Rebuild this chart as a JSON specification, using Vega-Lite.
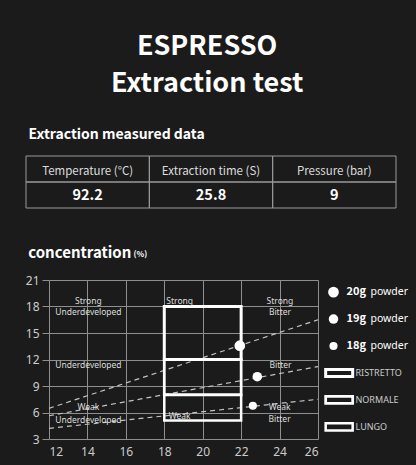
{
  "$schema": "https://vega.github.io/schema/vega-lite/v6.json",
  "background": "#1b1b1b",
  "padding": {"left": 25, "top": 32, "right": 15, "bottom": 12},
  "title": {"text": ["ESPRESSO", "Extraction test"], "anchor": "middle", "fontSize": 27, "lineHeight": 37, "font": "Noto Sans CJK SC", "fontWeight": "bold", "color": "#ffffff", "offset": 30, "dx": -15},
  "columns": 1,
  "spacing": 37,
  "config": {"view": {"stroke": null}, "font": "Noto Sans"},
  "concat": [
    {
      "title": {"text": "Extraction measured data", "anchor": "start", "fontSize": 14, "font": "Noto Sans CJK SC", "fontWeight": "bold", "color": "#ffffff", "dx": 3, "offset": 14},
      "width": 370,
      "height": 52,
      "data": {"values": [
        {"measure": "Temperature (°C)", "row": "label", "text": "Temperature (°C)"},
        {"measure": "Extraction time (S)", "row": "label", "text": "Extraction time (S)"},
        {"measure": "Pressure (bar)", "row": "label", "text": "Pressure (bar)"},
        {"measure": "Temperature (°C)", "row": "value", "text": "92.2"},
        {"measure": "Extraction time (S)", "row": "value", "text": "25.8"},
        {"measure": "Pressure (bar)", "row": "value", "text": "9"}
      ]},
      "encoding": {
        "x": {"field": "measure", "type": "nominal", "sort": null, "scale": {"paddingInner": 0, "paddingOuter": 0, "range": [-23, 347]}, "axis": null},
        "y": {"field": "row", "type": "nominal", "sort": ["label", "value"], "scale": {"paddingInner": 0, "paddingOuter": 0}, "axis": null}
      },
      "layer": [
        {"mark": {"type": "rect", "filled": false, "color": "#9a9a9a", "strokeWidth": 1}},
        {"transform": [{"filter": "datum.row === 'label'"}], "mark": {"type": "text", "fontSize": 11.5, "color": "#dddddd", "dy": 3, "font": "Noto Sans CJK SC"}, "encoding": {"text": {"field": "text"}}},
        {"transform": [{"filter": "datum.row === 'value'"}], "mark": {"type": "text", "fontSize": 14.5, "fontWeight": "bold", "color": "#ffffff", "dy": 1, "font": "Noto Sans CJK SC"}, "encoding": {"text": {"field": "text"}}}
      ]
    },
    {
      "bounds": "flush",
      "spacing": 0,
      "title": {"text": "concentration", "anchor": "start", "fontSize": 15, "font": "Noto Sans CJK SC", "fontWeight": "bold", "color": "#ffffff", "offset": -11, "dx": 3},
      "hconcat": [
        {
          "width": 269,
          "height": 159,
          "encoding": {
            "x": {"field": "x", "type": "quantitative", "scale": {"domain": [12, 26], "nice": false}, "axis": {"values": [12, 14, 16, 18, 20, 22, 24, 26], "tickCount": 20, "format": "d", "labelOverlap": false, "grid": true, "gridColor": "#8f8f8f", "domain": false, "ticks": false, "labelColor": "#cccccc", "labelFontSize": 12, "labelPadding": 7, "title": null}},
            "y": {"field": "y", "type": "quantitative", "scale": {"domain": [3, 21], "nice": false, "zero": false}, "axis": {"values": [3, 6, 9, 12, 15, 18, 21], "tickCount": 20, "format": "d", "labelOverlap": false, "grid": true, "gridColor": "#8f8f8f", "domain": false, "ticks": true, "tickSize": 7, "tickColor": "#8f8f8f", "labelColor": "#cccccc", "labelFontSize": 12, "labelPadding": 3, "title": "(%)", "titleAngle": 0, "titleX": 84, "titleY": -24, "titleAlign": "left", "titleBaseline": "alphabetic", "titleFontSize": 8, "titleColor": "#ffffff", "titleFontWeight": "bold", "titleFont": "Noto Sans CJK SC"}}
          },
          "layer": [
            {
              "data": {"values": [
                {"powder": "20g", "x": 12, "y": 6.47},
                {"powder": "20g", "x": 26, "y": 16.5},
                {"powder": "19g", "x": 12, "y": 5.63},
                {"powder": "19g", "x": 26, "y": 11.2},
                {"powder": "18g", "x": 12, "y": 4.2},
                {"powder": "18g", "x": 26, "y": 7.5}
              ]},
              "mark": {"type": "line", "strokeDash": [5, 4], "color": "#c4c4c4", "strokeWidth": 1.2},
              "encoding": {"detail": {"field": "powder"}}
            },
            {
              "data": {"values": [
                {"style": "RISTRETTO", "x": 18, "xEnd": 22, "y": 12, "yEnd": 18},
                {"style": "NORMALE", "x": 18, "xEnd": 22, "y": 8, "yEnd": 12},
                {"style": "LUNGO", "x": 18, "xEnd": 22, "y": 5.1, "yEnd": 8}
              ]},
              "mark": {"type": "rect", "filled": false, "color": "#ffffff"},
              "encoding": {
                "x2": {"field": "xEnd"},
                "y2": {"field": "yEnd"},
                "strokeWidth": {"field": "style", "type": "nominal", "scale": {"domain": ["RISTRETTO", "NORMALE", "LUNGO"], "range": [3, 2.5, 1.5]}, "legend": null}
              }
            },
            {
              "data": {"values": [
                {"x": 14.05, "y": 18.66, "text": "Strong"},
                {"x": 14.05, "y": 17.4, "text": "Underdeveloped"},
                {"x": 14.05, "y": 11.37, "text": "Underdeveloped"},
                {"x": 14.05, "y": 6.6, "text": "Weak"},
                {"x": 14.05, "y": 5.2, "text": "Underdeveloped"},
                {"x": 18.8, "y": 18.66, "text": "Strong"},
                {"x": 18.8, "y": 5.6, "text": "Weak"},
                {"x": 24.02, "y": 18.66, "text": "Strong"},
                {"x": 24.02, "y": 17.4, "text": "Bitter"},
                {"x": 24.05, "y": 11.37, "text": "Bitter"},
                {"x": 24.0, "y": 6.58, "text": "Weak"},
                {"x": 24.0, "y": 5.26, "text": "Bitter"}
              ]},
              "mark": {"type": "text", "fontSize": 8.5, "color": "#dddddd"},
              "encoding": {"text": {"field": "text"}}
            },
            {
              "data": {"values": [
                {"powder": "20g", "x": 21.93, "y": 13.56},
                {"powder": "19g", "x": 22.84, "y": 10.05},
                {"powder": "18g", "x": 22.61, "y": 6.77}
              ]},
              "mark": {"type": "circle", "color": "#ffffff", "opacity": 1},
              "encoding": {
                "size": {"field": "powder", "type": "nominal", "scale": {"domain": ["20g", "19g", "18g"], "range": [115, 66, 30]}, "legend": null}
              }
            }
          ]
        },
        {
          "width": 31,
          "height": 159,
          "data": {"values": [
            {"item": "20g", "powder": "20g", "kind": "dose", "label": "powder"},
            {"item": "19g", "powder": "19g", "kind": "dose", "label": "powder"},
            {"item": "18g", "powder": "18g", "kind": "dose", "label": "powder"},
            {"item": "RISTRETTO", "style": "RISTRETTO", "kind": "style"},
            {"item": "NORMALE", "style": "NORMALE", "kind": "style"},
            {"item": "LUNGO", "style": "LUNGO", "kind": "style"}
          ]},
          "encoding": {
            "y": {"field": "item", "type": "nominal", "sort": null, "scale": {"type": "point", "padding": 0.45}, "axis": null}
          },
          "layer": [
            {"transform": [{"filter": "datum.kind === 'dose'"}], "mark": {"type": "circle", "color": "#ffffff", "opacity": 1}, "encoding": {"size": {"field": "powder", "type": "nominal", "scale": {"domain": ["20g", "19g", "18g"], "range": [115, 66, 30]}, "legend": null}}},
            {"transform": [{"filter": "datum.kind === 'dose'"}], "mark": {"type": "text", "align": "left", "dx": 13, "fontSize": 11, "fontWeight": "bold", "color": "#ffffff", "font": "Noto Sans CJK SC"}, "encoding": {"text": {"field": "powder"}}},
            {"transform": [{"filter": "datum.kind === 'dose'"}], "mark": {"type": "text", "align": "left", "dx": 37, "fontSize": 10.5, "color": "#ffffff", "font": "Noto Sans"}, "encoding": {"text": {"field": "label"}}},
            {"transform": [{"filter": "datum.kind === 'style'"}], "mark": {"type": "point", "shape": "M-0.58,-0.26H1.42V0.26H-0.58Z", "size": 729, "filled": false, "color": "#ffffff", "opacity": 1}, "encoding": {"strokeWidth": {"field": "style", "type": "nominal", "scale": {"domain": ["RISTRETTO", "NORMALE", "LUNGO"], "range": [3, 2.5, 1.5]}, "legend": null}}},
            {"transform": [{"filter": "datum.kind === 'style'"}], "mark": {"type": "text", "align": "left", "dx": 22, "fontSize": 9, "color": "#cccccc"}, "encoding": {"text": {"field": "style"}}}
          ]
        }
      ]
    }
  ]
}
